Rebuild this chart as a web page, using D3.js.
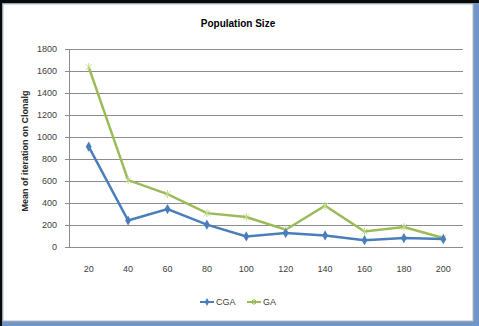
<!DOCTYPE html>
<html>
<head>
<meta charset="utf-8">
<script src="https://cdn.jsdelivr.net/npm/d3@7"></script>
<style>
    body { margin: 0; background: #000; }
    svg { display: block; font-family: "Liberation Sans", "DejaVu Sans", sans-serif; }
</style>
</head>
<body>
<div id="chart"></div>
<script>
// chart data
const categories = ["20", "40", "60", "80", "100", "120", "140", "160", "180", "200"];
const cgaValues = [912, 241, 345, 203, 96, 127, 105, 62, 81, 72];
const gaValues = [1635, 608, 481, 308, 272, 157, 375, 141, 181, 82];
const yTicks = [0, 200, 400, 600, 800, 1000, 1200, 1400, 1600, 1800];
const seriesNames = ["CGA", "GA"];

const W = 479, H = 326;
const margin = { left: 69, right: 16, top: 49, bottom: 79 };
const width = W - margin.left - margin.right;
const height = H - margin.top - margin.bottom;

const svg = d3.select("#chart").append("svg")
    .attr("width", W)
    .attr("height", H);

// window-like frame
svg.append("rect").attr("width", W).attr("height", H).attr("fill", "#0a0a0a");
svg.append("rect").attr("x", 2).attr("y", 3).attr("width", W - 2).attr("height", H - 3).attr("fill", "#6f95c9");
svg.append("rect").attr("x", 3).attr("y", 4).attr("width", W - 9).attr("height", H - 9)
    .attr("fill", "#fff").attr("stroke", "#b9b9b9").attr("stroke-width", 1);

const g = svg.append("g")
    .attr("transform", "translate(" + margin.left + "," + margin.top + ")");

const x = d3.scaleBand().domain(categories).range([0, width]);
const y = d3.scaleLinear().domain([0, 1800]).range([height, 0]);

// grid
g.append("g")
    .attr("class", "grid")
    .call(d3.axisLeft(y).tickValues(yTicks).tickSize(-width).tickFormat(""))
    .call(s => s.select(".domain").remove())
    .call(s => s.selectAll("line").attr("stroke", "#8c8c8c"));

// y axis
g.append("g")
    .call(d3.axisLeft(y).tickValues(yTicks).tickFormat(d3.format("d")).tickSize(4).tickPadding(8))
    .call(s => s.select(".domain").attr("stroke", "#8c8c8c"))
    .call(s => s.selectAll("line").attr("stroke", "#8c8c8c"))
    .call(s => s.selectAll("text").attr("fill", "#404040").style("font-size", "9px"));

// x axis labels
g.append("g")
    .attr("transform", "translate(0," + height + ")")
    .call(d3.axisBottom(x).tickSize(0).tickPadding(19))
    .call(s => s.select(".domain").remove())
    .call(s => s.selectAll("text").attr("fill", "#404040").style("font-size", "9px"));

// title
svg.append("text")
    .attr("x", 238)
    .attr("y", 27)
    .attr("text-anchor", "middle")
    .style("font-size", "10px")
    .style("font-weight", "bold")
    .text("Population Size");

// y label
svg.append("text")
    .attr("transform", "translate(28,151) rotate(-90)")
    .attr("text-anchor", "middle")
    .attr("fill", "#262626")
    .style("font-size", "9px")
    .style("font-weight", "bold")
    .text("Mean of iteration on Clonalg");

const line = d3.line()
    .x((d, i) => x(categories[i]) + x.bandwidth() / 2)
    .y(d => y(d));

const colors = ["#4a7ebb", "#9bbb59"];
const diamond = d3.symbol().type(d3.symbolDiamond).size(30);
const star = "M-3,-3L3,3M-3,3L3,-3M0,-4L0,4";

// GA
g.append("path")
    .datum(gaValues)
    .attr("fill", "none")
    .attr("stroke", colors[1])
    .attr("stroke-width", 2.5)
    .attr("d", line);
g.selectAll(".gaPt").data(gaValues).enter().append("path")
    .attr("class", "gaPt")
    .attr("transform", (d, i) => "translate(" + (x(categories[i]) + x.bandwidth() / 2) + "," + y(d) + ")")
    .attr("d", star)
    .attr("stroke", "#c5dc8f")
    .attr("stroke-width", 1);

// CGA
g.append("path")
    .datum(cgaValues)
    .attr("fill", "none")
    .attr("stroke", colors[0])
    .attr("stroke-width", 2.5)
    .attr("d", line);
g.selectAll(".cgaPt").data(cgaValues).enter().append("path")
    .attr("class", "cgaPt")
    .attr("transform", (d, i) => "translate(" + (x(categories[i]) + x.bandwidth() / 2) + "," + y(d) + ")")
    .attr("d", diamond)
    .attr("fill", colors[0]);

// legend
const legendX = [200, 247];
const legend = svg.selectAll(".legend").data(seriesNames).enter().append("g")
    .attr("class", "legend")
    .attr("transform", (d, i) => "translate(" + legendX[i] + ",302)");
legend.append("line")
    .attr("x1", 0).attr("x2", 14)
    .attr("stroke", (d, i) => colors[i])
    .attr("stroke-width", 2);
legend.append("path")
    .attr("transform", "translate(7,0)")
    .attr("d", (d, i) => i === 0 ? d3.symbol().type(d3.symbolDiamond).size(18)() : "M-2,-2L2,2M-2,2L2,-2M0,-3L0,3")
    .attr("fill", (d, i) => i === 0 ? colors[0] : "none")
    .attr("stroke", (d, i) => i === 0 ? "none" : colors[1]);
legend.append("text")
    .attr("x", 16)
    .attr("y", 3)
    .attr("fill", "#404040")
    .style("font-size", "9px")
    .text(d => d);
</script>
</body>
</html>
